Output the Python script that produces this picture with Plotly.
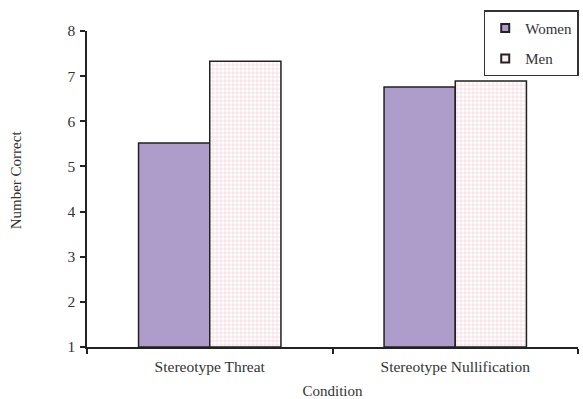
import plotly.graph_objects as go

conditions = ["Stereotype Threat", "Stereotype Nullification"]
women = [5.52, 6.76]
men = [7.33, 6.89]

FONT = "Liberation Serif"
WOMEN_COLOR = "#ae9ccb"
MEN_PINK = "#e8a0b0"

fig = go.Figure()
fig.add_trace(go.Bar(
    name="Women", x=conditions, y=[v - 1 for v in women], base=1, showlegend=False,
    marker=dict(color=WOMEN_COLOR, line=dict(color="#222222", width=1.5)),
))
fig.add_trace(go.Bar(
    name="Men", x=conditions, y=[v - 1 for v in men], base=1, showlegend=False,
    marker=dict(color="#ffffff", line=dict(color="#222222", width=1.5),
                pattern=dict(shape="+", size=4, solidity=0.3,
                             fgcolor=MEN_PINK, bgcolor="#ffffff")),
))
# legend entries with small square swatches
fig.add_trace(go.Scatter(
    name="Women", x=[None], y=[None], mode="markers", legendgroup="w",
    marker=dict(symbol="square", size=8, color=WOMEN_COLOR, line=dict(color="#222222", width=2)),
))
fig.add_trace(go.Scatter(
    name="Men", x=[None], y=[None], mode="markers", legendgroup="m",
    marker=dict(symbol="square", size=8, color="#fbeef1", line=dict(color="#222222", width=2)),
))

fig.update_layout(
    width=583, height=399,
    margin=dict(l=87, r=5, t=31, b=52, autoexpand=False),
    paper_bgcolor="white", plot_bgcolor="white",
    barmode="group", bargap=0.42, bargroupgap=0,
    font=dict(family=FONT, size=15, color="#333333"),
    showlegend=True,
    legend=dict(x=0.808, y=1.066, xanchor="left", yanchor="top",
                bordercolor="#333333", borderwidth=1.5, bgcolor="white",
                font=dict(family=FONT, size=15, color="#333333"),
                itemwidth=30, tracegroupgap=8, traceorder="grouped"),
    xaxis=dict(showline=True, linecolor="#222222", linewidth=1.5,
               ticks="outside", tickson="boundaries", ticklen=5, tickcolor="#222222",
               tickwidth=1.5, tickfont=dict(family=FONT, size=15.5), ticklabelstandoff=5,
               title=dict(text="Condition", font=dict(family=FONT, size=15), standoff=12),
               showgrid=False),
    yaxis=dict(range=[1, 8], tickvals=[1, 2, 3, 4, 5, 6, 7, 8], showline=True,
               linecolor="#222222", linewidth=1.5, ticks="outside", ticklen=5,
               tickcolor="#222222", tickwidth=1.5, showgrid=False, zeroline=False,
               tickfont=dict(family=FONT, size=15.5), ticklabelstandoff=2),
    annotations=[dict(text="Number Correct", textangle=-90, showarrow=False,
                      xref="paper", yref="paper", x=-0.145, y=0.53,
                      xanchor="center", yanchor="middle",
                      font=dict(family=FONT, size=15, color="#333333"))],
)

fig.write_html("out.html", post_script="document.body.style.margin='0';",
               config={"displayModeBar": False})
